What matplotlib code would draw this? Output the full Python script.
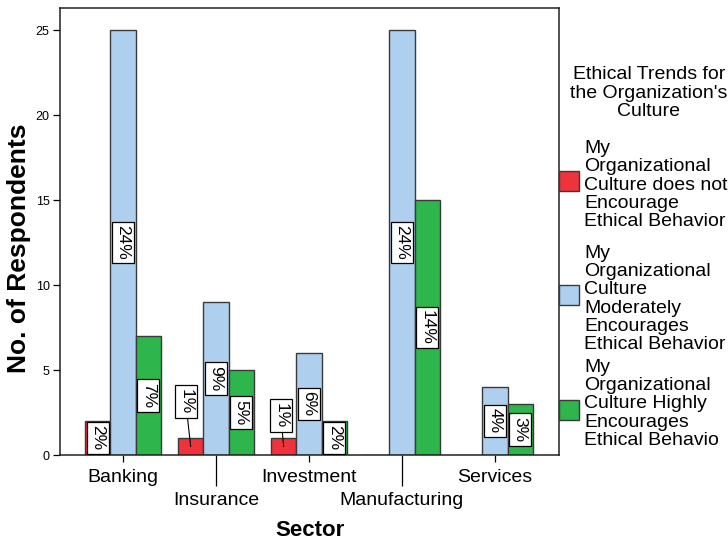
import matplotlib
matplotlib.use("Agg")
import matplotlib.pyplot as plt
from matplotlib.patches import Rectangle
import numpy as np

plt.rcParams['font.family'] = ['Liberation Sans', 'DejaVu Sans']

sectors = ["Banking", "Insurance", "Investment", "Manufacturing", "Services"]
series_names = [
    "My\nOrganizational\nCulture does not\nEncourage\nEthical Behavior",
    "My\nOrganizational\nCulture\nModerately\nEncourages\nEthical Behavior",
    "My\nOrganizational\nCulture Highly\nEncourages\nEthical Behavio",
]
not_encourage = [2, 1, 1, 0, 0]
moderately = [25, 9, 6, 25, 4]
highly = [7, 5, 2, 15, 3]
colors = ["#EF323C", "#AED0EE", "#2EB54B"]
legend_title = "Ethical Trends for\nthe Organization's\nCulture"

W, H = 728, 543
fig = plt.figure(figsize=(W / 100, H / 100), dpi=100)
ax = fig.add_axes([60 / W, (H - 455) / H, (559 - 60) / W, (455 - 8) / H])

series = [not_encourage, moderately, highly]
total = sum(sum(s) for s in series)
x = np.arange(len(sectors))
bw = 0.272
offsets = [-bw, 0, bw]

for si, (vals, col) in enumerate(zip(series, colors)):
    xs = x + offsets[si]
    ax.bar(xs, vals, width=bw, color=col, edgecolor="#3a3a3a", linewidth=1.0, zorder=2)
    for xi, v, gi in zip(xs, vals, range(len(vals))):
        if v <= 0:
            continue
        pct = f"{round(v / total * 100):d}%"
        bbox = dict(boxstyle="square,pad=0.2", fc="white", ec="black", lw=0.9)
        if si == 0 and v == 1:
            # small bars: label pushed up with leader line
            dy = -45 if gi == 1 else -31
            dx = -5 if gi == 1 else -3
            ax.annotate(pct, xy=(xi, v / 2), xytext=(dx, -dy), textcoords="offset pixels",
                        rotation=-90, ha="center", va="center", fontsize=12.5,
                        bbox=bbox, zorder=4,
                        arrowprops=dict(arrowstyle="-", color="black", lw=0.8,
                                        shrinkA=0, shrinkB=0))
        else:
            ax.text(xi, v / 2, pct, rotation=-90, ha="center", va="center",
                    fontsize=12.5, bbox=bbox, zorder=4)

ax.set_xlim(-0.677, 4.688)
ax.set_ylim(0, 26.3)
ax.set_yticks([0, 5, 10, 15, 20, 25])
ax.tick_params(axis="y", length=5, width=0.9, labelsize=9, pad=2.5)

ax.set_xticks([0, 2, 4], labels=[sectors[0], sectors[2], sectors[4]])
ax.set_xticks([1, 3], labels=[sectors[1], sectors[3]], minor=True)
ax.tick_params(axis="x", which="major", length=5, width=0.9, labelsize=14, pad=5.0)
ax.tick_params(axis="x", which="minor", length=22.3, width=0.9, labelsize=14, pad=4.5)

for sp in ax.spines.values():
    sp.set_linewidth(1.1)
    sp.set_color("#222222")

ax.set_ylabel("No. of Respondents", fontsize=19, fontweight="bold")
ax.yaxis.set_label_coords((19 - 60) / 499, (455 - 248) / 447)
ax.set_xlabel("Sector", fontsize=16, fontweight="bold")
ax.xaxis.set_label_coords(0.5, (455 - 530) / 447)
ax.xaxis.label.set_va("center")
ax.yaxis.label.set_va("center")

# legend (manual, SPSS style)
fig.text(649 / W, 1 - 93 / H, legend_title, ha="center", va="center",
         multialignment="center", fontsize=14, linespacing=1.12)
patch_centers = [181, 295, 409.5]
text_centers = [185, 299, 404]
for name, col, pc, tc in zip(series_names, colors, patch_centers, text_centers):
    fig.patches.append(Rectangle((559 / W, 1 - (pc + 10) / H), 20 / W, 20 / H,
                                 transform=fig.transFigure, facecolor=col,
                                 edgecolor="#3a3a3a", linewidth=1.0))
    fig.text(584 / W, 1 - tc / H, name, ha="left", va="center", fontsize=14,
             linespacing=1.1)

fig.savefig("out.png", dpi=100)
